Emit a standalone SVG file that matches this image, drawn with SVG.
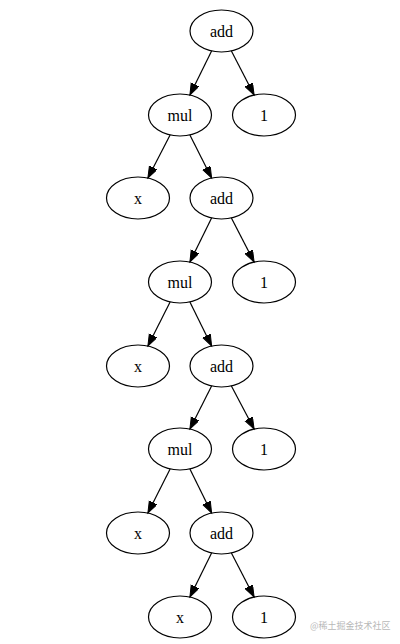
<svg xmlns="http://www.w3.org/2000/svg" width="400" height="644" viewBox="0 0 400 644">
<style>
.n ellipse{fill:none;stroke:#000;stroke-width:1.2}
.n text{font-family:"Liberation Serif","Times New Roman",serif;font-size:16px;text-anchor:middle;fill:#000}
#edges line{stroke:#000;stroke-width:1.2;marker-end:url(#ah)}
.wm{font-family:"Noto Sans CJK SC","Liberation Sans",sans-serif;font-size:9px;fill:#b8b8b8}
</style>
<defs>
<marker id="ah" markerUnits="userSpaceOnUse" markerWidth="14" markerHeight="10" refX="11.5" refY="4.2" orient="auto" viewBox="0 0 14 10">
<path d="M0,0 L11.5,4.2 L0,8.4 z" fill="#000" stroke="#000" stroke-width="1"/>
</marker>
</defs>
<rect width="400" height="644" fill="#fff"/>
<g id="edges">
<line x1="211.6" y1="51" x2="189.9" y2="95"/>
<line x1="231.4" y1="51" x2="254.1" y2="95"/>
<line x1="170.1" y1="135" x2="147.9" y2="178"/>
<line x1="189.9" y1="135" x2="211.6" y2="178"/>
<line x1="211.6" y1="218" x2="189.9" y2="262"/>
<line x1="231.4" y1="218" x2="254.1" y2="262"/>
<line x1="170.1" y1="302" x2="147.9" y2="346"/>
<line x1="189.9" y1="302" x2="211.6" y2="346"/>
<line x1="211.6" y1="386" x2="189.9" y2="429"/>
<line x1="231.4" y1="386" x2="254.1" y2="429"/>
<line x1="170.1" y1="469" x2="147.9" y2="513"/>
<line x1="189.9" y1="469" x2="211.6" y2="513"/>
<line x1="211.6" y1="553" x2="189.9" y2="597"/>
<line x1="231.4" y1="553" x2="254.1" y2="597"/>
</g>
<g id="add0" class="n"><ellipse cx="221.5" cy="31" rx="31.5" ry="21"/><text x="221.5" y="36.5">add</text></g>
<g id="mul0" class="n"><ellipse cx="180" cy="115" rx="31.5" ry="21"/><text x="180" y="120.5">mul</text></g>
<g id="one0" class="n"><ellipse cx="264" cy="115" rx="31.5" ry="21"/><text x="264" y="120.5">1</text></g>
<g id="x0" class="n"><ellipse cx="138" cy="198" rx="31.5" ry="21"/><text x="138" y="203.5">x</text></g>
<g id="add1" class="n"><ellipse cx="221.5" cy="198" rx="31.5" ry="21"/><text x="221.5" y="203.5">add</text></g>
<g id="mul1" class="n"><ellipse cx="180" cy="282" rx="31.5" ry="21"/><text x="180" y="287.5">mul</text></g>
<g id="one1" class="n"><ellipse cx="264" cy="282" rx="31.5" ry="21"/><text x="264" y="287.5">1</text></g>
<g id="x1" class="n"><ellipse cx="138" cy="366" rx="31.5" ry="21"/><text x="138" y="371.5">x</text></g>
<g id="add2" class="n"><ellipse cx="221.5" cy="366" rx="31.5" ry="21"/><text x="221.5" y="371.5">add</text></g>
<g id="mul2" class="n"><ellipse cx="180" cy="449" rx="31.5" ry="21"/><text x="180" y="454.5">mul</text></g>
<g id="one2" class="n"><ellipse cx="264" cy="449" rx="31.5" ry="21"/><text x="264" y="454.5">1</text></g>
<g id="x2" class="n"><ellipse cx="138" cy="533" rx="31.5" ry="21"/><text x="138" y="538.5">x</text></g>
<g id="add3" class="n"><ellipse cx="221.5" cy="533" rx="31.5" ry="21"/><text x="221.5" y="538.5">add</text></g>
<g id="x3" class="n"><ellipse cx="180" cy="617" rx="31.5" ry="21"/><text x="180" y="622.5">x</text></g>
<g id="one3" class="n"><ellipse cx="264" cy="617" rx="31.5" ry="21"/><text x="264" y="622.5">1</text></g>
<text class="wm" x="310" y="629">@稀土掘金技术社区</text>
</svg>
